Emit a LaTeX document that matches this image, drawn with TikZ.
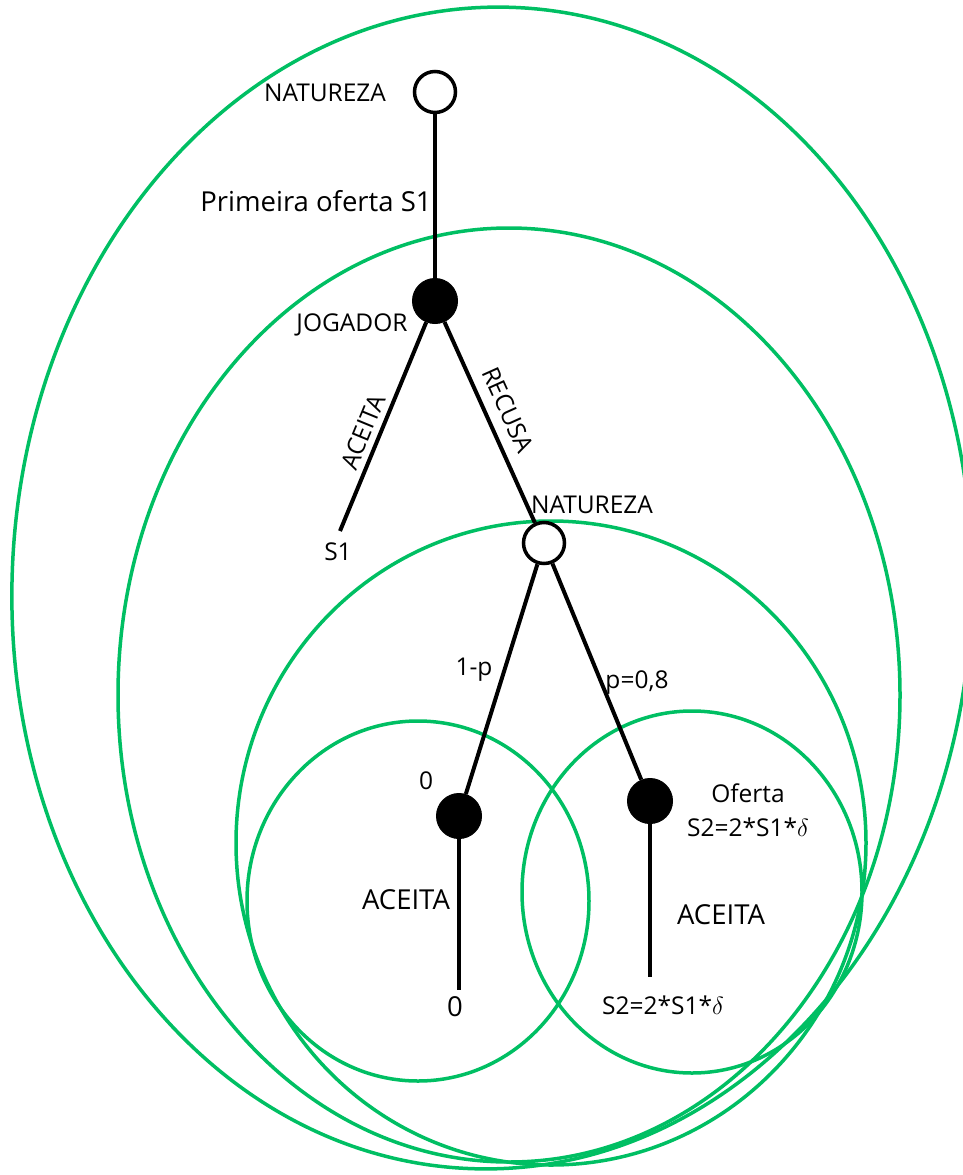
\documentclass[tikz,border=0pt]{standalone}
\usepackage{fontspec}
\setmainfont{Open Sans}
\definecolor{setgreen}{RGB}{0,191,99}
\tikzset{
  infoset/.style={draw=setgreen, line width=3.5pt},
  branch/.style={draw=black, line width=4pt},
  opennode/.style={circle, draw=black, fill=white, line width=3.5pt, minimum size=41pt, inner sep=0pt},
  playernode/.style={circle, draw=black, fill=black, line width=1pt, minimum size=45pt, inner sep=0pt},
  lbl/.style={inner sep=0pt, font=\fontsize{24.5}{34}\selectfont},
  biglbl/.style={inner sep=0pt, font=\fontsize{27.5}{32}\selectfont},
}
\begin{document}
\begin{tikzpicture}[x=1pt,y=-1pt]
\useasboundingbox (0,0) rectangle (963,1175);
% information sets
\draw[infoset, rotate around={-2:(492,588)}] (492,588) ellipse [x radius=480pt, y radius=581pt];
\draw[infoset] (509,695) ellipse [x radius=391pt, y radius=467pt];
\draw[infoset] (551,843) ellipse [x radius=315pt, y radius=322pt];
\draw[infoset] (418,901) ellipse [x radius=171pt, y radius=180pt];
\draw[infoset] (692,892) ellipse [x radius=170pt, y radius=181pt];
% tree nodes
\node[opennode] (n1) at (435,92) {};
\node[playernode] (j1) at (435,301) {};
\node[opennode] (n2) at (544,543) {};
\node[playernode] (j2) at (459,816) {};
\node[playernode] (j3) at (650,801) {};
\coordinate (s1end) at (340,531);
\coordinate (j2end) at (459,990);
\coordinate (j3end) at (650,977);
% branches
\draw[branch] (n1) -- (j1);
\draw[branch] (j1) -- (s1end);
\draw[branch] (j1) -- (n2);
\draw[branch] (n2) -- (j2);
\draw[branch] (n2) -- (j3);
\draw[branch] (j2) -- (j2end);
\draw[branch] (j3) -- (j3end);
% labels
\node[lbl] (tn1) at (325,93) {NATUREZA};
\node[biglbl] (tprim) at (316,201) {Primeira oferta S1};
\node[lbl] (tjog) at (352,325) {JOGADOR};
\node[lbl, rotate=67.6] (tacc1) at (363,432) {ACEITA};
\node[lbl, rotate=-65.8] (trec) at (508,410) {RECUSA};
\node[lbl] (tn2) at (592,505) {NATUREZA};
\node[lbl] (ts1) at (338,552) {S1};
\node[lbl] (t1p) at (474,670) {1-p};
\node[lbl] (tp) at (637,683) {p=0,8};
\node[lbl] (tzero1) at (426,781) {0};
\node[lbl, align=center] (toff) at (748,810) {Oferta\\S2=2*S1*$\delta$};
\node[biglbl] (tacc2) at (406,900) {ACEITA};
\node[biglbl] (tacc3) at (721,915) {ACEITA};
\node[biglbl] (tzero2) at (455,1007) {0};
\node[lbl] (ts2) at (663,1005) {S2=2*S1*$\delta$};
\end{tikzpicture}
\end{document}
